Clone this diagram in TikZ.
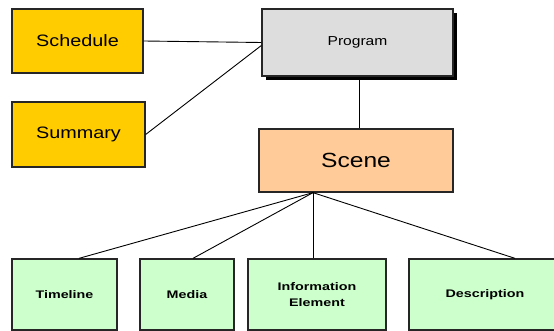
\documentclass[tikz,border=0pt]{standalone}
\usepackage{fontspec}
\usetikzlibrary{shadows}
\newfontfamily\diagfont[FakeStretch=1.2]{Liberation Sans}
\newfontfamily\leaffont[FakeStretch=1.3]{Liberation Sans}
\definecolor{topyellow}{HTML}{FFCC00}
\definecolor{proggray}{HTML}{DDDDDD}
\definecolor{scenepeach}{HTML}{FFCC99}
\definecolor{leafgreen}{HTML}{CCFFCC}
\tikzset{
  box/.style={draw=black!85, line width=1.3pt, rectangle, inner sep=0pt, align=center},
  side/.style={box, fill=topyellow, font=\diagfont\fontsize{16.5}{19}\selectfont},
  leaf/.style={box, fill=leafgreen, minimum height=71pt, font=\leaffont\bfseries\fontsize{11}{16}\selectfont},
  link/.style={draw=black, line width=0.9pt}
}
\begin{document}
\begin{tikzpicture}[x=1pt, y=-1pt]
  \useasboundingbox (0,0) rectangle (554,331);
  \fill[white] (0,0) rectangle (554,331);

  % upper part
  \node[side, minimum width=131pt, minimum height=64pt] (sched) at (77.5,41) {Schedule};
  \node[side, minimum width=133pt, minimum height=65pt] (summ) at (78.5,134.5) {Summary};
  \node[box, fill=proggray, minimum width=191pt, minimum height=67pt,
        font=\diagfont\fontsize{13}{15}\selectfont,
        drop shadow={shadow xshift=4pt, shadow yshift=-4pt, fill=black, opacity=1}]
        (prog) at (357.5,42.5) {Program};
  \node[box, fill=scenepeach, minimum width=194pt, minimum height=63pt,
        font=\diagfont\fontsize{20.5}{23}\selectfont] (scene) at (356,160.5) {Scene};

  % leaves
  \node[leaf, minimum width=105pt] (time) at (64.5,294.5) {Timeline};
  \node[leaf, minimum width=94pt] (media) at (187,294.5) {Media};
  \node[leaf, minimum width=138pt] (info) at (317,294.5) {Information\\Element};
  \node[leaf, minimum width=152pt] (desc) at (485,294.5) {Description};

  % connectors
  \draw[link] (sched.east) -- (prog.west);
  \draw[link] (summ.east) -- ([yshift=-3pt]prog.west);
  \draw[link] ([xshift=1.5pt]prog.south) -- ([xshift=1.5pt]prog.south |- scene.north);
  \coordinate (hub) at ([xshift=-43pt]scene.south);
  \draw[link] (hub) -- ([xshift=14.5pt]time.north);
  \draw[link] (hub) -- ([xshift=6pt]media.north);
  \draw[link] (hub) -- (hub |- info.north);
  \draw[link] (hub) -- ([xshift=30pt]desc.north);
\end{tikzpicture}
\end{document}
